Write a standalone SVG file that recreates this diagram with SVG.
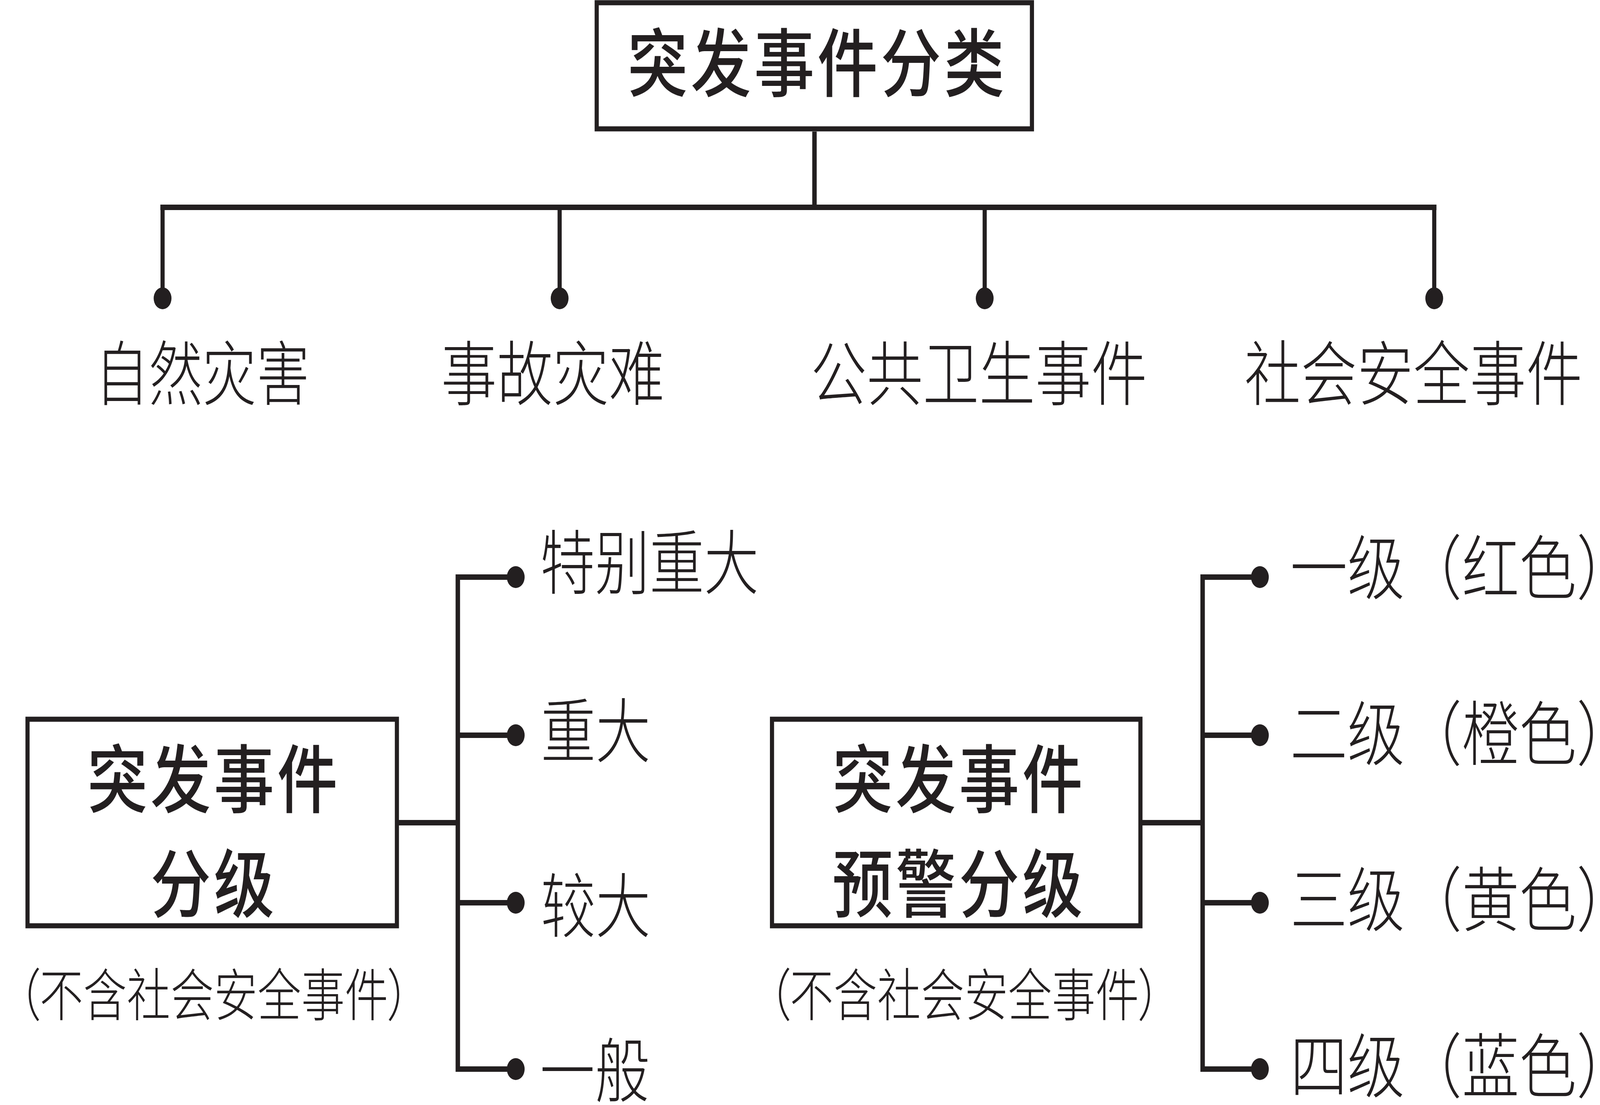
<svg xmlns="http://www.w3.org/2000/svg" width="5029" height="2830" viewBox="0 0 5029 2830" preserveAspectRatio="none">
<style>
svg{width:100vw;height:100vh}
.box{fill:#fff;stroke:#231f20;stroke-width:13}
.ln{fill:none;stroke:#231f20;stroke-width:14;stroke-linejoin:miter;stroke-linecap:butt}
.dr{fill:none;stroke:#231f20;stroke-width:13}
.dot{fill:#231f20}
.hd{font-family:"Noto Sans CJK SC","Noto Sans CJK JP",sans-serif;font-weight:500;font-size:190px;letter-spacing:9px;fill:#231f20}
.lb{font-family:"Noto Sans CJK SC","Noto Sans CJK JP",sans-serif;font-weight:300;font-size:180px;fill:#231f20}
.nt{font-family:"Noto Sans CJK SC","Noto Sans CJK JP",sans-serif;font-weight:300;font-size:145px;fill:#231f20;font-feature-settings:"palt"}
</style>
<rect width="5029" height="2830" fill="#fff"/>
<g id="connectors">
<path class="ln" d="M2560 337 V531"/>
<path class="ln" d="M504 531 H4515"/>
<path class="dr" d="M511 531 V764 M1759 531 V764 M3095 531 V764 M4508 531 V764"/>
<circle class="dot" cx="511" cy="764" r="28"/>
<circle class="dot" cx="1759" cy="764" r="28"/>
<circle class="dot" cx="3095" cy="764" r="28"/>
<circle class="dot" cx="4508" cy="764" r="28"/>
<path class="ln" d="M1248 2107 H1439 M1622 1478 H1439 V2738 H1622 M1439 1883 H1622 M1439 2312 H1622"/>
<circle class="dot" cx="1621" cy="1478" r="28"/>
<circle class="dot" cx="1621" cy="1883" r="28"/>
<circle class="dot" cx="1621" cy="2312" r="28"/>
<circle class="dot" cx="1621" cy="2738" r="28"/>
<path class="ln" d="M3585 2107 H3780 M3960 1478 H3780 V2738 H3960 M3780 1883 H3960 M3780 2312 H3960"/>
<circle class="dot" cx="3960" cy="1478" r="28"/>
<circle class="dot" cx="3960" cy="1883" r="28"/>
<circle class="dot" cx="3960" cy="2312" r="28"/>
<circle class="dot" cx="3960" cy="2738" r="28"/>
</g>
<g id="root">
<rect class="box" x="1875.5" y="7" width="1368" height="323"/>
<text class="hd" x="1972" y="232">突发事件分类</text>
</g>
<g id="n-natural"><text class="lb" x="299" y="1023" textLength="675" lengthAdjust="spacingAndGlyphs">自然灾害</text></g>
<g id="n-accident"><text class="lb" x="1386" y="1023" textLength="703" lengthAdjust="spacingAndGlyphs">事故灾难</text></g>
<g id="n-health"><text class="lb" x="2548" y="1023" textLength="1058" lengthAdjust="spacingAndGlyphs">公共卫生事件</text></g>
<g id="n-social"><text class="lb" x="3911" y="1023" textLength="1063" lengthAdjust="spacingAndGlyphs">社会安全事件</text></g>
<g id="grading">
<rect class="box" x="86.5" y="1842" width="1161" height="529"/>
<text class="hd" x="274" y="2066">突发事件</text>
<text class="hd" x="473" y="2334">分级</text>
<text class="nt" x="56" y="2602" textLength="1233" lengthAdjust="spacingAndGlyphs">（不含社会安全事件）</text>
</g>
<g id="g1"><text class="lb" x="1698" y="1507" textLength="687" lengthAdjust="spacingAndGlyphs">特别重大</text></g>
<g id="g2"><text class="lb" x="1700" y="1938" textLength="345" lengthAdjust="spacingAndGlyphs">重大</text></g>
<g id="g3"><text class="lb" x="1700" y="2386" textLength="345" lengthAdjust="spacingAndGlyphs">较大</text></g>
<g id="g4"><text class="lb" x="1697" y="2808" textLength="345" lengthAdjust="spacingAndGlyphs">一般</text></g>
<g id="warning">
<rect class="box" x="2426.5" y="1842" width="1158" height="529"/>
<text class="hd" x="2616" y="2066">突发事件</text>
<text class="hd" x="2616" y="2334">预警分级</text>
<text class="nt" x="2414" y="2602" textLength="1235" lengthAdjust="spacingAndGlyphs">（不含社会安全事件）</text>
</g>
<g id="w1"><text class="lb" x="4055" y="1520">一级（红色）</text></g>
<g id="w2"><text class="lb" x="4055" y="1945">二级（橙色）</text></g>
<g id="w3"><text class="lb" x="4055" y="2370">三级（黄色）</text></g>
<g id="w4"><text class="lb" x="4055" y="2796">四级（蓝色）</text></g>
</svg>
